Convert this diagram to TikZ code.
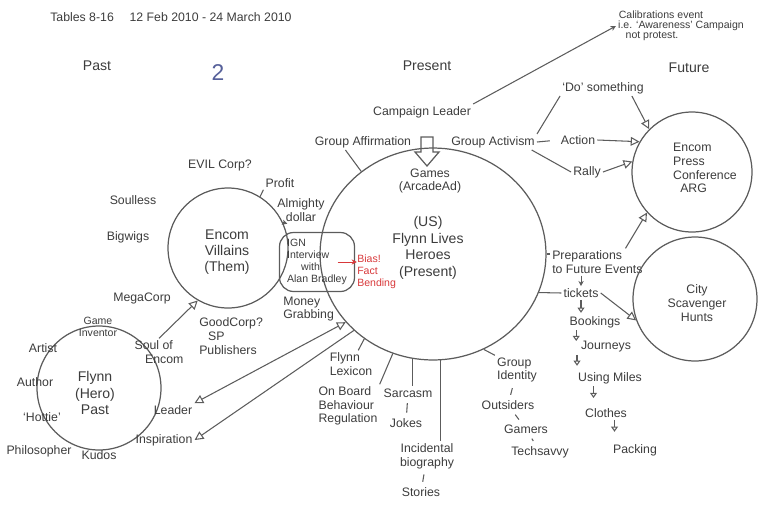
\documentclass[tikz,border=0pt]{standalone}
\usepackage{fontspec}
\newfontfamily\handfont{Liberation Sans}
\usepackage{xcolor}
\usetikzlibrary{shapes.geometric,arrows.meta,positioning,calc}
\definecolor{ink}{HTML}{3C3C3C}
\definecolor{pen}{HTML}{5C5C5C}
\definecolor{redpen}{HTML}{D8383A}
\definecolor{bluepen}{HTML}{56609A}
\tikzset{
  lbl/.style={font=\handfont\fontsize{7}{7.8}\selectfont, text=ink, inner sep=1pt, align=center},
  smalltxt/.style={lbl, font=\handfont\fontsize{6}{6.8}\selectfont},
  bigtxt/.style={lbl, font=\handfont\fontsize{8}{9.2}\selectfont},
  ring/.style={circle, draw, line width=0.7pt, inner sep=0pt},
  opentri/.style={-{Triangle[open,length=5pt,width=5pt]}},
  chainarr/.style={-{Triangle[open,length=3pt,width=4pt]}},
  smallarr/.style={-{Stealth[length=3pt,width=3pt]}},
  gapline/.style={shorten <=2pt, shorten >=2pt},
}
\begin{document}
\begin{tikzpicture}[x=0.02cm, y=-0.02cm, color=pen, line width=0.6pt]
    \useasboundingbox (0,0) rectangle (766,504);

    % Headings
    \node[lbl, anchor=west] (header) at (48,17) {Tables 8-16 \quad 12 Feb 2010 - 24 March 2010};
    \node[bigtxt] (pasthead) at (97,66) {Past};
    \node[lbl, font=\handfont\fontsize{13}{14}\selectfont, text=bluepen] (pagenum) at (218,73) {2};
    \node[bigtxt] (presenthead) at (427,66) {Present};
    \node[bigtxt] (futurehead) at (689,68) {Future};

    % Calibration note
    \node[smalltxt] (calibA) at (661,15) {Calibrations event};
    \node[smalltxt] (calibB) at (681,26) {i.e. ‘Awareness’ Campaign};
    \node[smalltxt] (calibC) at (652,36) {not protest.};

    % Present circle
    \node[ellipse, draw, line width=0.7pt, minimum width=4.52cm, minimum height=4.24cm] (present) at (433,254) {};
    \node[lbl] (games) at (430,181) {Games\\(ArcadeAd)};
    \node[bigtxt, font=\handfont\fontsize{8}{9.5}\selectfont] (heroes) at (428,248) {(US)\\Flynn Lives\\Heroes\\(Present)};

    % Campaign leader
    \node[lbl] (camp) at (422,112) {Campaign Leader};
    \draw[line width=0.7pt] (421,137) -- (433,137) -- (433,152) -- (439,152) -- (427,166) -- (415,152) -- (421,152) -- cycle;
    \draw[smallarr] (camp.north east) -- (calibB.west);

    % Activism
    \node[lbl] (gaff) at (363,142) {Group Affirmation};
    \node[lbl] (gact) at (493,142) {Group Activism};
    \node[lbl] (dosome) at (603,88) {‘Do’ something};
    \node[lbl] (action) at (578,140) {Action};
    \node[lbl] (rally) at (587,172) {Rally};
    \draw ([xshift=-10pt]gaff.south) -- (present.131);
    \draw (gact.north east) -- (dosome.south west);
    \draw[shorten >=5pt] (gact.east) -- (action.west);
    \draw ([xshift=-3pt]gact.south east) -- (rally.west);

    % Encom press conference
    \node[ring, minimum size=2.4cm] (encom) at (692,172) {};
    \node[lbl, align=left] (encomtext) at (705,168) {Encom\\Press\\Conference\\\hspace*{4pt}ARG};
    \draw[opentri] ([xshift=-8pt]dosome.south east) -- (encom.135);
    \draw[opentri] (action.east) -- (encom.150);
    \draw[opentri] (rally.east) -- (encom.170);

    % Preparations
    \node[lbl, align=left, anchor=west] (prep) at (550,262) {Preparations\\to Future Events};
    \draw (present.east) -- (present.east -| prep.west);
    \draw[opentri] ([xshift=-11pt]prep.north east) -- (encom.222);
    \node[lbl] (tickets) at (581,293) {tickets};
    \draw (present.340) -- (tickets.west);
    \draw[smallarr, line width=0.5pt] (prep.south -| tickets) -- (tickets.north);

    % City scavenger hunts
    \node[ring, minimum size=2.48cm] (scav) at (695,299) {};
    \node[lbl] (scavtext) at (697,303) {City\\Scavenger\\Hunts};
    \draw[opentri] (tickets.east) -- (scav.200);

    % Travel chain
    \node[lbl] (bookings) at (595,322) {Bookings};
    \node[lbl] (journeys) at (606,347) {Journeys};
    \node[lbl] (miles) at (610,378) {Using Miles};
    \node[lbl] (clothes) at (606,413) {Clothes};
    \node[lbl] (packing) at (635,450) {Packing};
    \draw[chainarr] (tickets.south) -- ++(0,13);
    \draw[chainarr] ([xshift=5pt]bookings.south west) -- ++(0,11);
    \draw[chainarr] ([xshift=-1pt]journeys.south west) -- ++(0,11);
    \draw[chainarr] ([xshift=10pt]miles.south west) -- ++(0,12);
    \draw[chainarr] ([xshift=18pt]clothes.south west) -- ++(0,12);

    % Group identity
    \node[lbl, align=left] (gid) at (517,370) {Group\\Identity};
    \node[lbl] (outs) at (508,405) {Outsiders};
    \node[lbl] (gamers) at (526,429) {Gamers};
    \node[lbl] (techs) at (540,452) {Techsavvy};
    \draw (present.298) -- (gid.north west);
    \draw[gapline] (gid) -- (outs);
    \draw[gapline] (outs) -- (gamers);
    \draw[gapline] (gamers) -- (techs);

    % Bottom spokes
    \node[lbl, align=left] (lex) at (351,364) {Flynn\\Lexicon};
    \node[lbl, align=left] (onboard) at (348,406) {On Board\\Behaviour\\Regulation};
    \node[lbl] (sarc) at (408,393) {Sarcasm};
    \node[lbl] (jokes) at (406,423) {Jokes};
    \node[lbl] (incid) at (427,456) {Incidental\\biography};
    \node[lbl] (stories) at (421,492) {Stories};
    \draw (present.231) -- (lex);
    \draw (present.248) -- (onboard.north east);
    \draw (present.259) -- (present.259 |- sarc.north);
    \draw[gapline] (sarc) -- (jokes);
    \draw (present.274) -- (present.274 |- incid.north);
    \draw[gapline] (incid) -- (stories);

    % Villains
    \node[ring, minimum size=2.4cm] (villains) at (228,248) {};
    \node[bigtxt] (villtext) at (227,252) {Encom\\Villains\\(Them)};
    \node[lbl] (evil) at (220,165) {EVIL Corp?};
    \node[lbl] (profit) at (280,183) {Profit};
    \node[lbl] (dollar) at (301,210) {Almighty\\dollar};
    \node[lbl] (soulless) at (133,200) {Soulless};
    \node[lbl] (bigwigs) at (128,237) {Bigwigs};
    \node[lbl] (megacorp) at (142,298) {MegaCorp};
    \node[lbl, align=left, anchor=west] (goodcorp) at (197,336) {GoodCorp?\\\hspace*{5pt}SP\\Publishers};
    \node[lbl, align=left, anchor=west] (money) at (281,309) {Money\\Grabbing};
    \draw (villains.58) -- (profit.south west);
    \draw[smallarr] (villains.25) -- ([xshift=7pt]dollar.south west);

    % IGN interview
    \node[draw, rounded corners=8pt, line width=0.7pt, minimum width=1.5cm, minimum height=1.18cm,
          smalltxt, align=left] (ign) at (317,262) {IGN\\Interview\\\hspace*{8pt}with\\Alan Bradley};
    \node[smalltxt, text=redpen, align=left, anchor=west] (bias) at (355,272) {Bias!\\Fact\\Bending};
    \draw[redpen, smallarr, line width=0.5pt] ([xshift=-10pt]ign.east) -- ([xshift=1pt]ign.east);

    % Flynn past
    \node[ring, minimum size=2.48cm] (flynn) at (99,388) {};
    \node[bigtxt] (flynntext) at (95,393) {Flynn\\(Hero)\\Past};
    \node[smalltxt] (inventor) at (98,327) {Game\\Inventor};
    \node[lbl] (artist) at (43,348) {Artist};
    \node[lbl] (author) at (35,382) {Author};
    \node[lbl] (hottie) at (42,417) {‘Hottie’};
    \node[lbl] (philo) at (39,451) {Philosopher};
    \node[lbl] (kudos) at (99,455) {Kudos};
    \node[lbl] (inspir) at (164,440) {Inspiration};
    \node[lbl] (leader) at (173,410) {Leader};
    \node[lbl, align=left] (soul) at (159,352) {Soul of\\\hspace*{6pt}Encom};
    \draw[opentri] (soul.north) -- (villains.240);
    \draw[{Triangle[open,length=5pt,width=5pt]}-{Triangle[open,length=5pt,width=5pt]}] (present.218) -- (leader.north east);
    \draw[opentri] (present.224) -- (inspir.east);

\end{tikzpicture}
\end{document}
